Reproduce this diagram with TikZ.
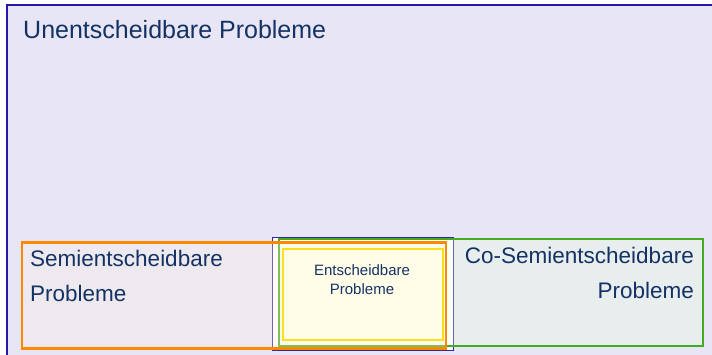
\documentclass[tikz,border=0pt]{standalone}
\usepackage{fontspec}
\setmainfont{Liberation Sans}
\definecolor{lav}{RGB}{232,230,245}
\definecolor{outerblue}{RGB}{40,22,170}
\definecolor{innerblue}{RGB}{55,35,165}
\definecolor{grn}{RGB}{68,172,34}
\definecolor{grnfill}{RGB}{232,255,221}
\definecolor{org}{RGB}{255,136,0}
\definecolor{orgfill}{RGB}{255,243,222}
\definecolor{yel}{RGB}{255,222,30}
\definecolor{yelfill}{RGB}{255,253,232}
\definecolor{navy}{RGB}{20,50,100}
\begin{document}
\begin{tikzpicture}[x=1pt,y=-1pt,
  txt/.style={text=navy, inner sep=0pt, anchor=base west},
  bigtxt/.style={txt, font=\fontsize{25}{30}\selectfont},
  midtxt/.style={txt, font=\fontsize{22.5}{27}\selectfont},
  smalltxt/.style={txt, anchor=base, font=\fontsize{15}{18}\selectfont}]
\useasboundingbox (0,0) rectangle (712,354);
\clip (0,0) rectangle (712,354);
\fill[white] (0,0) rectangle (712,354);
% outer region
\draw[line width=2pt, draw=outerblue, fill=lav] (6.5,5) rectangle (740,380);
% inner thin blue box
\draw[line width=1pt, draw=innerblue, fill=white] (272,237.5) rectangle (453,350.5);
% green box
\draw[line width=2pt, draw=grn, fill=grnfill, fill opacity=0.3] (278.5,239) rectangle (702.5,346);
% orange box
\draw[line width=2.5pt, draw=org, fill=orgfill, fill opacity=0.3] (22,242.5) rectangle (446,348.5);
% yellow box
\draw[line width=2pt, draw=yel, fill=yelfill] (282.5,248.5) rectangle (442.5,339.5);
% labels
\node[bigtxt] (unent) at (23,38.3) {Unentscheidbare Probleme};
\node[midtxt] (semiA) at (30,266) {Semientscheidbare};
\node[midtxt] (semiB) at (30,301) {Probleme};
\node[midtxt, anchor=base east] (coA) at (694,263) {Co-Semientscheidbare};
\node[midtxt, anchor=base east] (coB) at (694,298) {Probleme};
\node[smalltxt] (entA) at (362,275.3) {Entscheidbare};
\node[smalltxt] (entB) at (362,294) {Probleme};
\end{tikzpicture}
\end{document}
